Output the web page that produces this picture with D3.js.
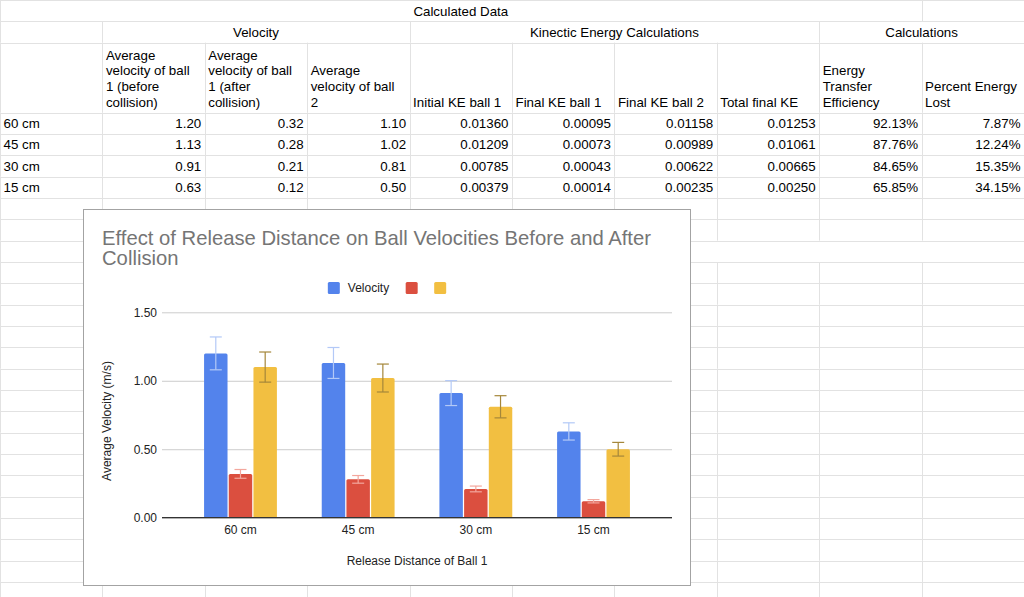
<!DOCTYPE html>
<html>
<head>
<meta charset="utf-8">
<title>Calculated Data</title>
<script src="https://cdn.jsdelivr.net/npm/d3@7"></script>
<style>
    html, body { margin: 0; padding: 0; background: #fff; overflow: hidden; }
    svg { display: block; font-family: "Liberation Sans", Arial, sans-serif; }
</style>
</head>
<body>
<svg id="sheet" width="1024" height="597"></svg>
<script>

//
// ***********************************************************************************
//                      DATA
// ***********************************************************************************
//

const categories = ["60 cm", "45 cm", "30 cm", "15 cm"];

// Velocities (m/s)
const velocityBefore = [1.20, 1.13, 0.91, 0.63];
const velocityAfter = [0.32, 0.28, 0.21, 0.12];
const velocityBall2 = [1.10, 1.02, 0.81, 0.50];

// Error bar half lengths
const errorBefore = [0.120, 0.113, 0.091, 0.063];
const errorAfter = [0.032, 0.028, 0.021, 0.012];
const errorBall2 = [0.110, 0.102, 0.081, 0.050];

// Kinetic energy table columns
const initialKE = [0.01360, 0.01209, 0.00785, 0.00379];
const finalKE1 = [0.00095, 0.00073, 0.00043, 0.00014];
const finalKE2 = [0.01158, 0.00989, 0.00622, 0.00235];
const totalFinalKE = [0.01253, 0.01061, 0.00665, 0.00250];
const transferEfficiency = [92.13, 87.76, 84.65, 65.85];
const energyLost = [7.87, 12.24, 15.35, 34.15];

// Sheet headers
const sheetTitle = "Calculated Data";
const groupHeaders = [
    { label: "Velocity", from: 1, to: 4 },
    { label: "Kinectic Energy Calculations", from: 4, to: 8 },
    { label: "Calculations", from: 8, to: 10 }
];
const columnHeaders = [
    [],
    ["Average", "velocity of ball", "1 (before", "collision)"],
    ["Average", "velocity of ball", "1 (after", "collision)"],
    ["Average", "velocity of ball", "2"],
    ["Initial KE ball 1"],
    ["Final KE ball 1"],
    ["Final KE ball 2"],
    ["Total final KE"],
    ["Energy", "Transfer", "Efficiency"],
    ["Percent Energy", "Lost"]
];

// Chart labels
const chartTitle = ["Effect of Release Distance on Ball Velocities Before and After", "Collision"];
const seriesNames = ["Velocity", "", ""];
const yTicks = [0, 0.5, 1.0, 1.5];
const xTitle = "Release Distance of Ball 1";
const yTitle = "Average Velocity (m/s)";

//
// ***********************************************************************************
//                      SPREADSHEET
// ***********************************************************************************
//

const W = 1024, H = 597;
const svg = d3.select("#sheet");
svg.append("rect").attr("width", W).attr("height", H).attr("fill", "#fff");

const colEdges = d3.range(11).map(i => Math.min(W, i * 102.4));
const rowHeights = [21.33, 21.33, 70];
while (d3.sum(rowHeights) < H) rowHeights.push(21.33);
const rowEdges = [0];
rowHeights.forEach(h => rowEdges.push(rowEdges[rowEdges.length - 1] + h));

const crisp = v => Math.round(v) + 0.5;
const grid = svg.append("g").attr("stroke", "#e2e2e2").attr("stroke-width", 1);

// Horizontal cell borders
grid.selectAll("line.h")
    .data(rowEdges)
    .join("line")
        .attr("x1", 0).attr("x2", W)
        .attr("y1", d => crisp(d)).attr("y2", d => crisp(d));

// Vertical cell borders, skipping merged cells
const verticalEdges = r => {
    if (r === 0) return [0, 9];
    if (r === 1) return [0, 1, 4, 8];
    if (r === 9) return [0];
    return d3.range(0, 10);
};
rowHeights.forEach((h, r) => {
    grid.selectAll(null)
        .data(verticalEdges(r))
        .join("line")
            .attr("x1", c => crisp(colEdges[c])).attr("x2", c => crisp(colEdges[c]))
            .attr("y1", rowEdges[r]).attr("y2", rowEdges[r + 1]);
});

const cells = svg.append("g").attr("font-size", "13.33px").attr("fill", "#000");

cells.append("text")
    .attr("x", (colEdges[0] + colEdges[9]) / 2)
    .attr("y", rowEdges[0] + 15.8)
    .attr("text-anchor", "middle")
    .text(sheetTitle);

cells.selectAll("text.group")
    .data(groupHeaders)
    .join("text")
        .attr("x", d => (colEdges[d.from] + colEdges[d.to]) / 2)
        .attr("y", rowEdges[1] + 15.8)
        .attr("text-anchor", "middle")
        .text(d => d.label);

// Wrapped, bottom aligned column headers
columnHeaders.forEach((lines, c) => {
    cells.selectAll(null)
        .data(lines)
        .join("text")
            .attr("x", colEdges[c] + 3.5)
            .attr("y", (d, i) => rowEdges[3] - 5.8 - (lines.length - 1 - i) * 15.7)
            .text(d => d);
});

const f2 = d3.format(".2f"), f5 = d3.format(".5f"), pct = d => d3.format(".2f")(d) + "%";
const tableColumns = [
    [velocityBefore, f2], [velocityAfter, f2], [velocityBall2, f2],
    [initialKE, f5], [finalKE1, f5], [finalKE2, f5], [totalFinalKE, f5],
    [transferEfficiency, pct], [energyLost, pct]
];

categories.forEach((cat, i) => {
    const baseline = rowEdges[3 + i] + 15.4;
    cells.append("text").attr("x", colEdges[0] + 3.5).attr("y", baseline).text(cat);
    tableColumns.forEach(([values, fmt], c) => {
        cells.append("text")
            .attr("x", colEdges[c + 2] - 3.5)
            .attr("y", baseline)
            .attr("text-anchor", "end")
            .text(fmt(values[i]));
    });
});

//
// ***********************************************************************************
//                      CHART
// ***********************************************************************************
//

const box = { x: 83, y: 209, w: 608, h: 377 };
const plot = { left: 162, right: 672, top: 312.3, bottom: 517.7 };

const chart = svg.append("g");
chart.append("rect")
    .attr("x", box.x + 0.5).attr("y", box.y + 0.5)
    .attr("width", box.w - 1).attr("height", box.h - 1)
    .attr("fill", "#fff")
    .attr("stroke", "#a3a3a3");

// Title
chart.append("g")
    .attr("font-size", "20.25px")
    .attr("fill", "#757575")
    .selectAll("text")
    .data(chartTitle)
    .join("text")
        .attr("x", box.x + 19)
        .attr("y", (d, i) => 244.5 + i * 20.5)
        .text(d => d);

// Scales
const x0 = d3.scaleBand()
    .domain(categories)
    .range([plot.left, plot.right])
    .paddingInner(0.36)
    .paddingOuter(0.347);

const x1 = d3.scaleBand()
    .domain(d3.range(seriesNames.length))
    .range([0, x0.bandwidth()])
    .padding(0.05);

const y = d3.scaleLinear()
    .domain([0, 1.5])
    .range([plot.bottom, plot.top]);

const colors = ["#5383ec", "#db4f3f", "#f2bf41"];
const errorColors = ["#b3c9f7", "#f3a79d", "#a5873a"];

// Y axis with gridlines
chart.append("g")
    .attr("transform", `translate(${plot.left},0)`)
    .call(d3.axisLeft(y)
        .tickValues(yTicks)
        .tickFormat(d3.format(".2f"))
        .tickSize(-(plot.right - plot.left))
        .tickPadding(5))
    .call(g => g.select(".domain").remove())
    .call(g => g.selectAll(".tick line").attr("stroke", "#cccccc"))
    .call(g => g.selectAll(".tick text")
        .attr("font-family", "Liberation Sans, Arial, sans-serif")
        .attr("font-size", "12px")
        .attr("fill", "#222"));

// X axis labels
chart.append("g")
    .attr("transform", `translate(0,${plot.bottom})`)
    .call(d3.axisBottom(x0).tickSize(0).tickPadding(8))
    .call(g => g.select(".domain").remove())
    .call(g => g.selectAll(".tick text")
        .attr("font-family", "Liberation Sans, Arial, sans-serif")
        .attr("font-size", "12px")
        .attr("fill", "#222"));

// Bars and error bars
const series = [velocityBefore, velocityAfter, velocityBall2];
const errors = [errorBefore, errorAfter, errorBall2];
const barData = categories.flatMap((cat, i) => series.map((values, s) => ({
    cat, s, value: values[i], err: errors[s][i]
})));

const groups = chart.append("g")
    .selectAll("g.bar")
    .data(barData)
    .join("g")
        .classed("bar", true)
        .attr("transform", d => `translate(${x0(d.cat) + x1(d.s)},0)`);

groups.append("rect")
    .attr("y", d => y(d.value))
    .attr("width", x1.bandwidth())
    .attr("height", d => y(0) - y(d.value))
    .attr("rx", 1.5)
    .attr("fill", d => colors[d.s]);

const capHalf = 6;
const errorBars = groups.append("g")
    .attr("stroke", d => errorColors[d.s])
    .attr("stroke-width", 1.2)
    .attr("transform", `translate(${x1.bandwidth() / 2},0)`);
errorBars.append("line")
    .attr("y1", d => y(d.value + d.err)).attr("y2", d => y(d.value - d.err));
errorBars.append("line")
    .attr("x1", -capHalf).attr("x2", capHalf)
    .attr("y1", d => y(d.value + d.err)).attr("y2", d => y(d.value + d.err));
errorBars.append("line")
    .attr("x1", -capHalf).attr("x2", capHalf)
    .attr("y1", d => y(d.value - d.err)).attr("y2", d => y(d.value - d.err));

// Baseline
chart.append("line")
    .attr("x1", plot.left).attr("x2", plot.right)
    .attr("y1", y(0)).attr("y2", y(0))
    .attr("stroke", "#333")
    .attr("stroke-width", 1.2);

// Axis titles
chart.append("text")
    .attr("x", (plot.left + plot.right) / 2)
    .attr("y", 565)
    .attr("text-anchor", "middle")
    .attr("font-size", "12px")
    .attr("fill", "#222")
    .text(xTitle);

chart.append("text")
    .attr("transform", "translate(106.7,421) rotate(-90)")
    .attr("dy", "0.35em")
    .attr("text-anchor", "middle")
    .attr("font-size", "12px")
    .attr("fill", "#222")
    .text(yTitle);

// Legend, centred in the chart box
const legend = chart.append("g").attr("font-size", "12px").attr("fill", "#222");
const items = legend.selectAll("g")
    .data(seriesNames)
    .join("g");
items.append("rect")
    .attr("width", 12).attr("height", 12)
    .attr("y", 282)
    .attr("rx", 1.5)
    .attr("fill", (d, i) => colors[i]);
items.append("text")
    .attr("x", 20)
    .attr("y", 288)
    .attr("dy", "0.35em")
    .text(d => d);

let offset = 0;
const widths = [];
items.each(function (d) {
    const w = 12 + (d ? 8 + this.querySelector("text").getComputedTextLength() : 0);
    widths.push(offset);
    offset += w + 16.5;
});
const legendWidth = offset - 16.5;
const legendStart = box.x + box.w / 2 - legendWidth / 2;
items.attr("transform", (d, i) => `translate(${legendStart + widths[i]},0)`);

</script>
</body>
</html>
